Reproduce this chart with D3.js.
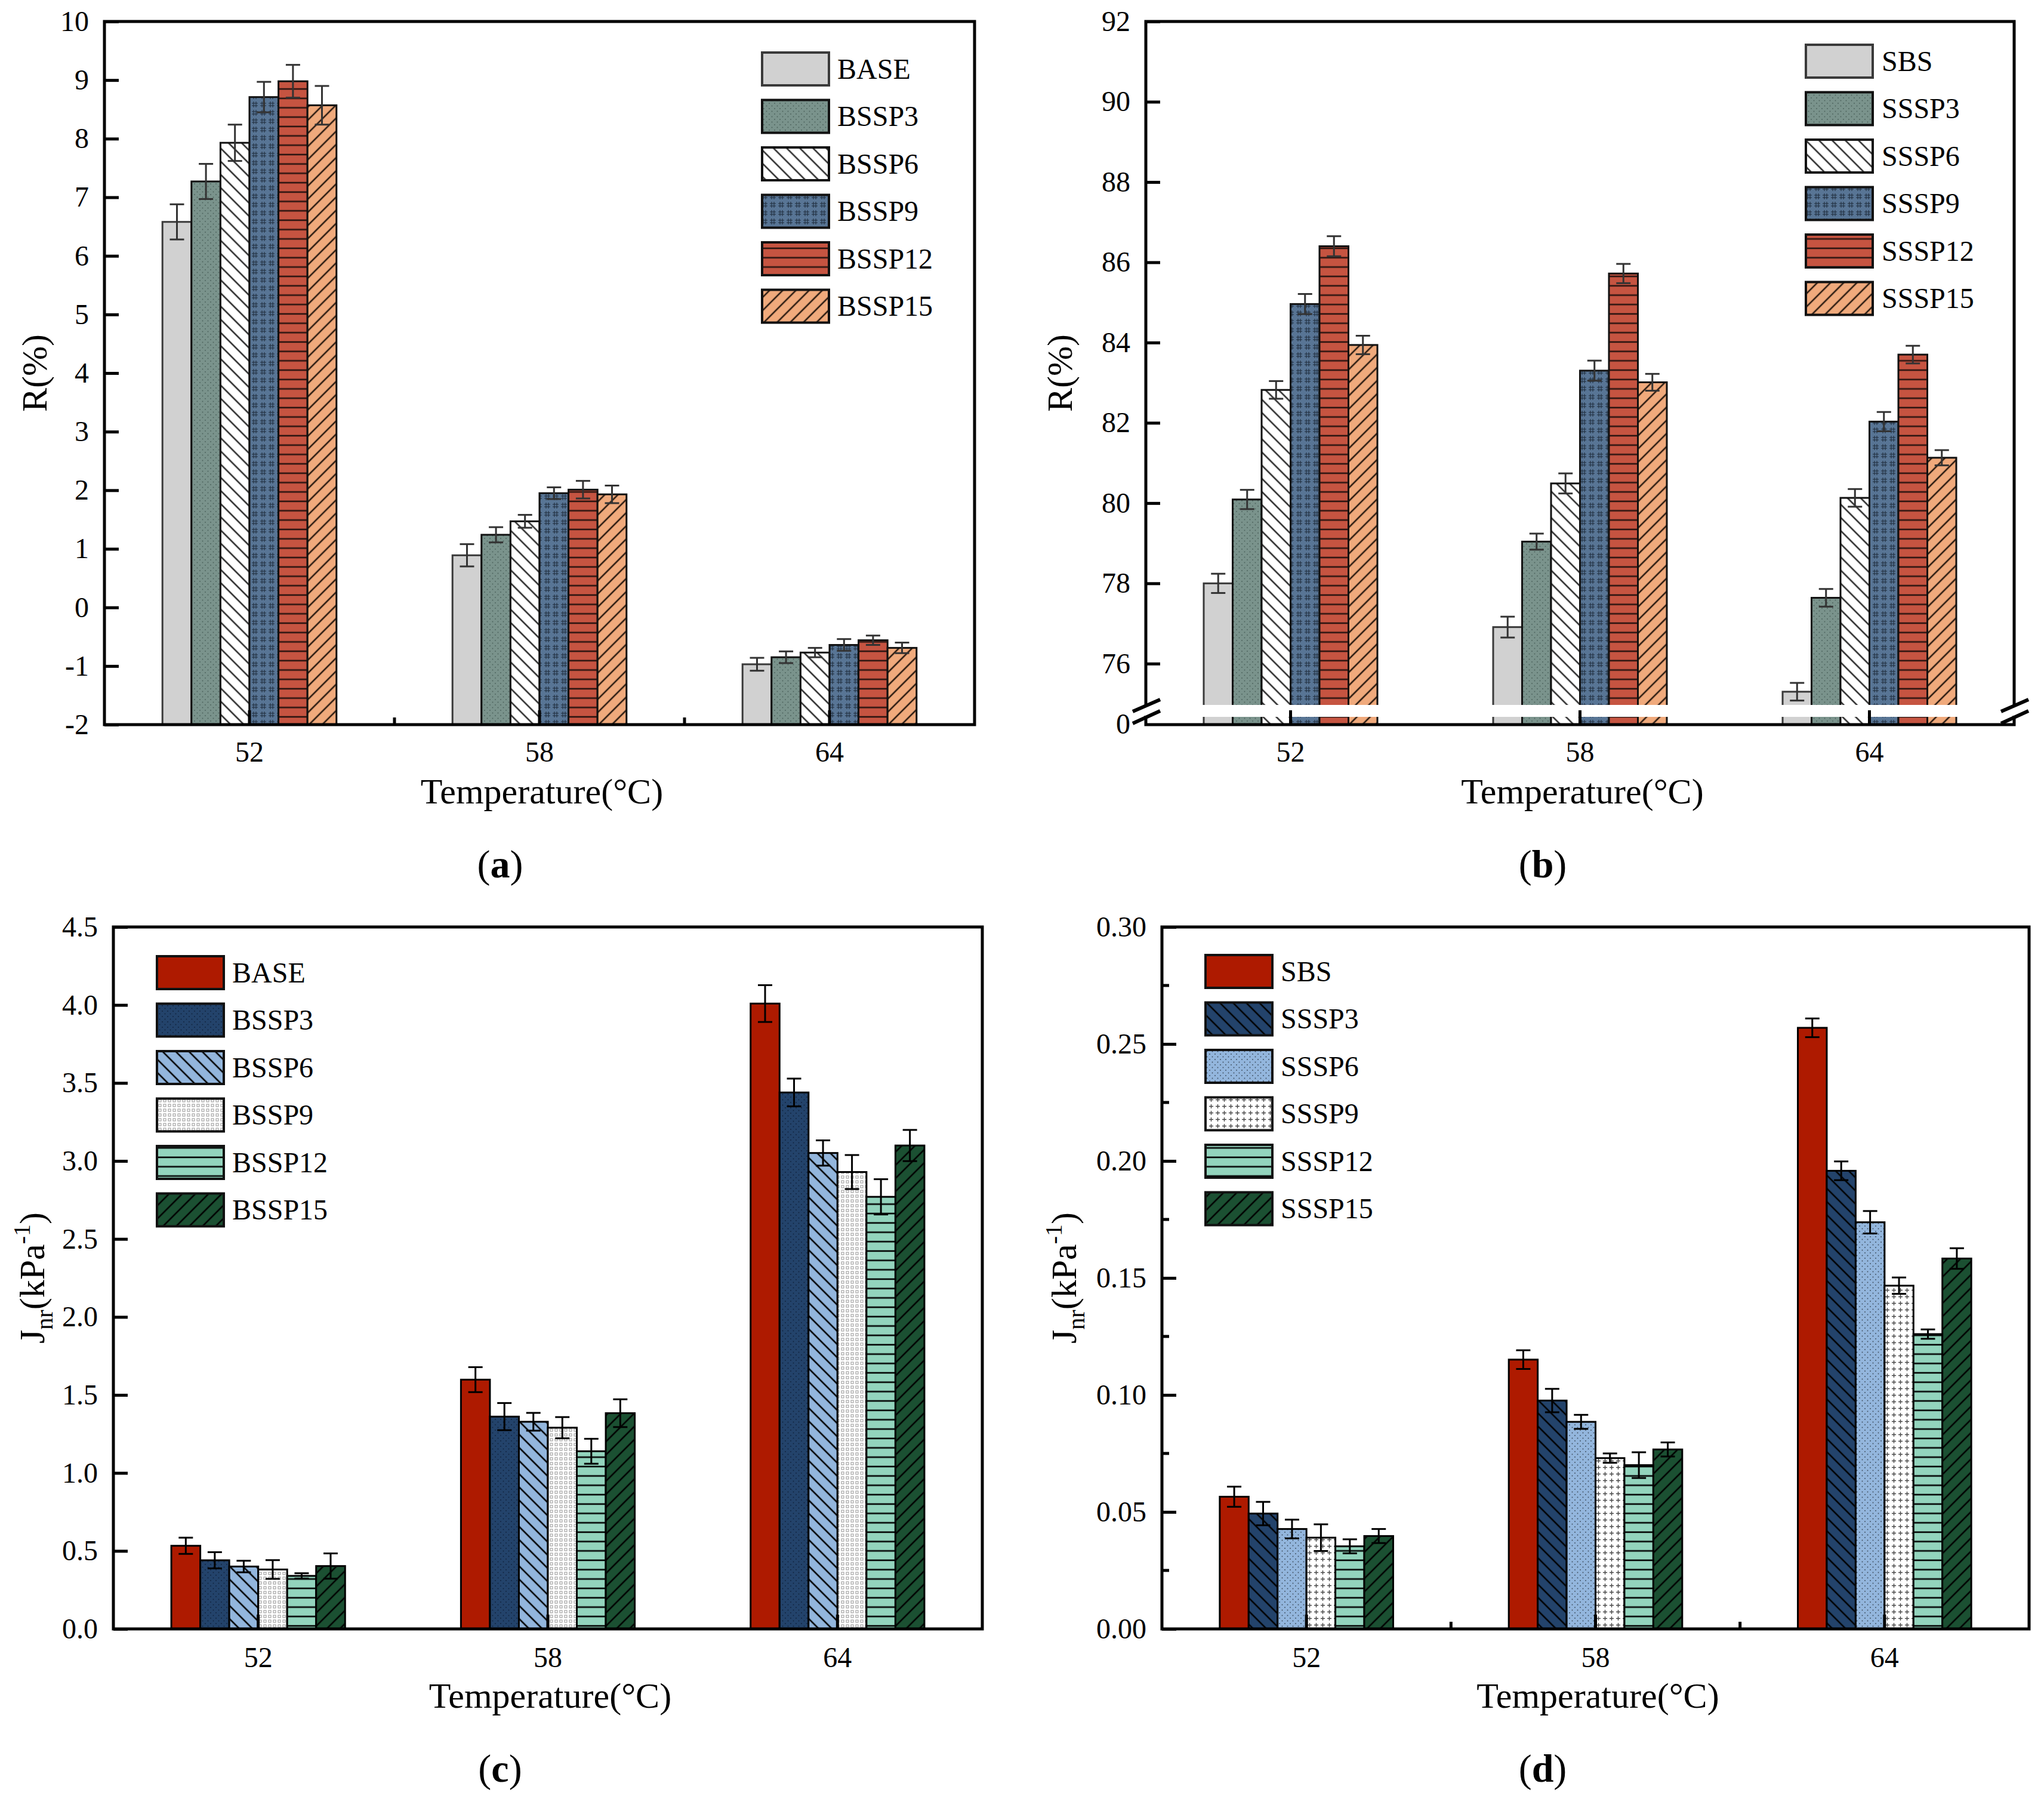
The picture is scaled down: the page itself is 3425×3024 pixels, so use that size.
<!DOCTYPE html>
<meta charset="utf-8">
<script src="https://d3js.org/d3.v7.min.js"></script>
<body style="margin:0;background:#fff">
<div id="fig"></div>
<script>
// categories
const temps = ["52", "58", "64"];

// (a) R(%) of base binder series
const namesA = ["BASE", "BSSP3", "BSSP6", "BSSP9", "BSSP12", "BSSP15"];
const valuesA = [
  [6.58, 0.89, -0.97],
  [7.27, 1.24, -0.85],
  [7.93, 1.47, -0.77],
  [8.71, 1.95, -0.64],
  [8.98, 2.01, -0.56],
  [8.57, 1.93, -0.69]];
const errorsA = [
  [0.30, 0.19, 0.11],
  [0.30, 0.13, 0.10],
  [0.31, 0.11, 0.08],
  [0.26, 0.10, 0.10],
  [0.28, 0.15, 0.08],
  [0.33, 0.15, 0.09]];
const ticksA = [-2, -1, 0, 1, 2, 3, 4, 5, 6, 7, 8, 9, 10];

// (b) R(%) of SBS binder series
const namesB = ["SBS", "SSSP3", "SSSP6", "SSSP9", "SSSP12", "SSSP15"];
const valuesB = [
  [78.00, 76.91, 75.30],
  [80.09, 79.04, 77.64],
  [82.82, 80.49, 80.13],
  [84.96, 83.30, 82.03],
  [86.40, 85.72, 83.70],
  [83.94, 83.01, 81.13]];
const errorsB = [
  [0.24, 0.26, 0.22],
  [0.24, 0.20, 0.22],
  [0.22, 0.25, 0.22],
  [0.25, 0.25, 0.24],
  [0.25, 0.24, 0.22],
  [0.23, 0.21, 0.19]];
const ticksB = [76, 78, 80, 82, 84, 86, 88, 90, 92];

// (c) Jnr of base binder series
const namesC = ["BASE", "BSSP3", "BSSP6", "BSSP9", "BSSP12", "BSSP15"];
const valuesC = [
  [0.533, 1.598, 4.009],
  [0.440, 1.361, 3.439],
  [0.400, 1.328, 3.051],
  [0.381, 1.290, 2.929],
  [0.340, 1.139, 2.770],
  [0.403, 1.383, 3.099]];
const errorsC = [
  [0.052, 0.080, 0.118],
  [0.052, 0.087, 0.089],
  [0.037, 0.057, 0.081],
  [0.060, 0.068, 0.109],
  [0.017, 0.080, 0.113],
  [0.081, 0.089, 0.100]];
const ticksC = [0, 0.5, 1.0, 1.5, 2.0, 2.5, 3.0, 3.5, 4.0, 4.5];

// (d) Jnr of SBS binder series
const namesD = ["SBS", "SSSP3", "SSSP6", "SSSP9", "SSSP12", "SSSP15"];
const valuesD = [
  [0.0565, 0.1151, 0.2569],
  [0.0493, 0.0976, 0.1958],
  [0.0427, 0.0885, 0.1738],
  [0.0390, 0.0730, 0.1467],
  [0.0353, 0.0700, 0.1260],
  [0.0397, 0.0767, 0.1583]];
const errorsD = [
  [0.0043, 0.0040, 0.0040],
  [0.0050, 0.0050, 0.0040],
  [0.0040, 0.0030, 0.0048],
  [0.0057, 0.0020, 0.0035],
  [0.0030, 0.0055, 0.0020],
  [0.0030, 0.0030, 0.0044]];
const ticksD = [0, 0.05, 0.10, 0.15, 0.20, 0.25, 0.30];

const FONT = "'Liberation Serif', 'Times New Roman', serif";

const svg = d3.select("#fig").append("svg")
  .attr("width", 3425).attr("height", 3024)
  .style("font-family", FONT);
const defs = svg.append("defs");

// fill patterns
function pattern(id, kind, bg, ink) {
  let p;
  if (kind === "solid") return bg;
  if (kind === "back" || kind === "fwd") {
    const s = 15.6;
    p = defs.append("pattern").attr("id", id).attr("patternUnits", "userSpaceOnUse")
      .attr("width", s).attr("height", s)
      .attr("patternTransform", `rotate(${kind === "back" ? -45 : 45})`);
    p.append("rect").attr("width", s).attr("height", s).attr("fill", bg);
    p.append("line").attr("x1", s / 2).attr("x2", s / 2).attr("y1", -1).attr("y2", s + 1)
      .attr("stroke", ink).attr("stroke-width", 2.6);
  } else if (kind === "hlines") {
    p = defs.append("pattern").attr("id", id).attr("patternUnits", "userSpaceOnUse")
      .attr("width", 20).attr("height", 15.7);
    p.append("rect").attr("width", 20).attr("height", 15.7).attr("fill", bg);
    p.append("line").attr("x1", -1).attr("x2", 21).attr("y1", 7.8).attr("y2", 7.8)
      .attr("stroke", ink).attr("stroke-width", 2.6);
  } else if (kind === "dots") {
    p = defs.append("pattern").attr("id", id).attr("patternUnits", "userSpaceOnUse")
      .attr("width", 9).attr("height", 9);
    p.append("rect").attr("width", 9).attr("height", 9).attr("fill", bg);
    p.append("circle").attr("cx", 2).attr("cy", 2).attr("r", 0.9).attr("fill", ink);
    p.append("circle").attr("cx", 6.5).attr("cy", 6.5).attr("r", 0.9).attr("fill", ink);
  } else if (kind === "mesh") {
    p = defs.append("pattern").attr("id", id).attr("patternUnits", "userSpaceOnUse")
      .attr("width", 14).attr("height", 14);
    p.append("rect").attr("width", 14).attr("height", 14).attr("fill", bg);
    p.append("path").attr("d", "M2,5H12M2,9H12M5,2V12M9,2V12")
      .attr("stroke", ink).attr("stroke-width", 1).attr("fill", "none");
  } else if (kind === "grid") {
    p = defs.append("pattern").attr("id", id).attr("patternUnits", "userSpaceOnUse")
      .attr("width", 8).attr("height", 8);
    p.append("rect").attr("width", 8).attr("height", 8).attr("fill", bg);
    p.append("rect").attr("x", 2).attr("y", 2).attr("width", 4).attr("height", 4)
      .attr("fill", "none").attr("stroke", ink).attr("stroke-width", 0.9);
  } else if (kind === "plus") {
    p = defs.append("pattern").attr("id", id).attr("patternUnits", "userSpaceOnUse")
      .attr("width", 11).attr("height", 11);
    p.append("rect").attr("width", 11).attr("height", 11).attr("fill", bg);
    p.append("path").attr("d", "M2,5.5H9M5.5,2V9")
      .attr("stroke", ink).attr("stroke-width", 1.3).attr("fill", "none");
  }
  return `url(#${id})`;
}

const fillsTop = [
  pattern("t0", "solid", "#d1d1d1"),
  pattern("t1", "dots", "#7a938c", "#4a605a"),
  pattern("t2", "back", "#ffffff", "#2b2b2b"),
  pattern("t3", "mesh", "#587595", "#1c2838"),
  pattern("t4", "hlines", "#c65441", "#2a1410"),
  pattern("t5", "fwd", "#f0aa7c", "#2a1a10")];
const strokesTop = ["#3a3a3a", "#111", "#111", "#111", "#111", "#111"];

const fillsC = [
  pattern("c0", "solid", "#ae1a00"),
  pattern("c1", "dots", "#23436b", "#10223c"),
  pattern("c2", "back", "#93b6dd", "#000"),
  pattern("c3", "grid", "#ffffff", "#8a8a8a"),
  pattern("c4", "hlines", "#93d4bd", "#000"),
  pattern("c5", "fwd", "#1b5032", "#000")];
const fillsD = [
  pattern("d0", "solid", "#ae1a00"),
  pattern("d1", "back", "#23436b", "#000"),
  pattern("d2", "dots", "#93b6dd", "#3b4a5a"),
  pattern("d3", "plus", "#ffffff", "#444"),
  pattern("d4", "hlines", "#93d4bd", "#000"),
  pattern("d5", "fwd", "#1b5032", "#000")];
const strokesBottom = ["#000", "#000", "#000", "#000", "#000", "#000"];

const panels = [
  {left: 175, right: 1633, top: 36, bottom: 1214, domain: [-2, 10], ticks: ticksA, fmt: d => String(d),
   names: namesA, values: valuesA, errors: errorsA, fills: fillsTop, strokes: strokesTop, errColor: "#333",
   legend: [1277, 115], textX: 1403, ytitle: "R", yTitleX: 78, label: "a", labelX: 838,
   xPad: 28, boundaryTicks: true},
  {left: 1920, right: 3375, top: 36, bottom: 1214, domain: [74.48, 92], ticks: ticksB, fmt: d => String(d),
   names: namesB, values: valuesB, errors: errorsB, fills: fillsTop, strokes: strokesTop, errColor: "#333",
   legend: [3026, 102], textX: 3153, ytitle: "R", yTitleX: 1796, label: "b", labelX: 2585,
   xPad: 28, brk: true},
  {left: 190, right: 1646, top: 1553, bottom: 2729, domain: [0, 4.5], ticks: ticksC, fmt: d3.format(".1f"),
   names: namesC, values: valuesC, errors: errorsC, fills: fillsC, strokes: strokesBottom, errColor: "#000",
   legend: [263, 1629], textX: 389, ytitle: "J", yTitleX: 74, label: "c", labelX: 838,
   xPad: 30},
  {left: 1947, right: 3400, top: 1553, bottom: 2729, domain: [0, 0.3], ticks: ticksD, fmt: d3.format(".2f"),
   names: namesD, values: valuesD, errors: errorsD, fills: fillsD, strokes: strokesBottom, errColor: "#000",
   legend: [2020, 1627], textX: 2146, ytitle: "J", yTitleX: 1803, label: "d", labelX: 2585,
   xPad: 30, minorY: 0.025, boundaryTicks: true}
];

panels.forEach(drawPanel);

function drawPanel(p) {
  const g = svg.append("g");
  const x = d3.scaleBand().domain(temps).range([p.left, p.right]).paddingInner(0).paddingOuter(0);
  const groupW = x.bandwidth() * 0.6;
  const xs = d3.scaleBand().domain(d3.range(p.names.length)).range([0, groupW]);
  const y = d3.scaleLinear().domain(p.domain).range([p.bottom, p.top]);

  // bars
  p.names.forEach((name, si) => {
    const recs = temps.map((t, ti) => ({t, v: p.values[si][ti], e: p.errors[si][ti]}));
    const gx = d => x(d.t) + (x.bandwidth() - groupW) / 2 + xs(si);
    g.append("g").selectAll("rect").data(recs).join("rect")
      .attr("x", gx).attr("width", xs.bandwidth())
      .attr("y", d => y(d.v)).attr("height", d => p.bottom - y(d.v))
      .attr("fill", p.fills[si]).attr("stroke", p.strokes[si]).attr("stroke-width", 3);
    const eb = g.append("g").attr("stroke", p.errColor).attr("stroke-width", 3);
    recs.forEach(d => {
      const cx = gx(d) + xs.bandwidth() / 2;
      eb.append("line").attr("x1", cx).attr("x2", cx).attr("y1", y(d.v - d.e)).attr("y2", y(d.v + d.e));
      eb.append("line").attr("x1", cx - 12).attr("x2", cx + 12).attr("y1", y(d.v - d.e)).attr("y2", y(d.v - d.e));
      eb.append("line").attr("x1", cx - 12).attr("x2", cx + 12).attr("y1", y(d.v + d.e)).attr("y2", y(d.v + d.e));
    });
  });

  // axis break stripe through the bars
  if (p.brk) {
    temps.forEach(t => {
      g.append("rect").attr("x", x(t) + (x.bandwidth() - groupW) / 2 - 3).attr("width", groupW + 6)
        .attr("y", 1181).attr("height", 20).attr("fill", "#fff");
    });
  }

  // y axis
  const ya = g.append("g").attr("transform", `translate(${p.left},0)`)
    .call(d3.axisLeft(y).tickValues(p.ticks).tickFormat(p.fmt).tickSize(-24).tickPadding(26));
  ya.select(".domain").remove();
  ya.selectAll(".tick line").attr("stroke", "#000").attr("stroke-width", 5);
  ya.selectAll(".tick text").attr("font-size", 48).attr("font-family", FONT).attr("fill", "#000");
  if (p.minorY) {
    const minors = d3.range(p.domain[0] + p.minorY, p.domain[1], p.minorY * 2);
    g.append("g").selectAll("line").data(minors).join("line")
      .attr("x1", p.left).attr("x2", p.left + 12).attr("y1", d => y(d)).attr("y2", d => y(d))
      .attr("stroke", "#000").attr("stroke-width", 5);
  }
  if (p.brk) {
    g.append("text").attr("x", p.left - 26).attr("y", p.bottom).attr("dy", "0.32em")
      .attr("text-anchor", "end").attr("font-size", 48).text("0");
  }

  // x axis
  const xa = g.append("g").attr("transform", `translate(0,${p.bottom})`)
    .call(d3.axisBottom(x).tickSize(-24).tickPadding(p.xPad));
  xa.select(".domain").remove();
  xa.selectAll(".tick line").attr("stroke", "#000").attr("stroke-width", 5);
  xa.selectAll(".tick text").attr("font-size", 48).attr("font-family", FONT).attr("fill", "#000");
  if (p.boundaryTicks) {
    g.append("g").selectAll("line").data(temps.slice(1)).join("line")
      .attr("x1", d => x(d)).attr("x2", d => x(d)).attr("y1", p.bottom).attr("y2", p.bottom - 12)
      .attr("stroke", "#000").attr("stroke-width", 5);
  }

  // frame
  g.append("rect").attr("x", p.left).attr("y", p.top)
    .attr("width", p.right - p.left).attr("height", p.bottom - p.top)
    .attr("fill", "none").attr("stroke", "#000").attr("stroke-width", 5);

  // break marks on both side axes
  if (p.brk) {
    [p.left, p.right].forEach(ax => {
      g.append("rect").attr("x", ax - 5).attr("y", 1184).attr("width", 10).attr("height", 15).attr("fill", "#fff");
      g.append("line").attr("x1", ax - 22).attr("y1", 1192).attr("x2", ax + 24).attr("y2", 1172)
        .attr("stroke", "#000").attr("stroke-width", 6);
      g.append("line").attr("x1", ax - 22).attr("y1", 1212).attr("x2", ax + 24).attr("y2", 1191)
        .attr("stroke", "#000").attr("stroke-width", 6);
    });
  }

  // legend
  const lg = g.append("g");
  p.names.forEach((name, si) => {
    const cy = p.legend[1] + si * 79.5;
    lg.append("rect").attr("x", p.legend[0]).attr("y", cy - 27).attr("width", 112).attr("height", 55)
      .attr("fill", p.fills[si]).attr("stroke", si === 0 && p.strokes[0] !== "#000" ? "#3a3a3a" : "#111")
      .attr("stroke-width", 4);
    lg.append("text").attr("x", p.textX).attr("y", cy).attr("dy", "0.35em")
      .attr("font-size", 48).text(name);
  });

  // axis titles
  const midX = (p.left + p.right) / 2;
  g.append("text").attr("x", midX + 4).attr("y", p.bottom + 132).attr("text-anchor", "middle")
    .attr("font-size", 60).text("Temperature(\u00B0C)");

  const midY = (p.top + p.bottom) / 2;
  const yt = g.append("text").attr("transform", `translate(${p.yTitleX},${midY}) rotate(-90)`)
    .attr("text-anchor", "middle").attr("font-size", 60);
  if (p.ytitle === "R") {
    yt.text("R(%)");
  } else {
    yt.append("tspan").text("J");
    yt.append("tspan").attr("font-size", 40).attr("dy", 14).text("nr");
    yt.append("tspan").attr("dy", -14).text("(kPa");
    yt.append("tspan").attr("font-size", 40).attr("dy", -24).text("-1");
    yt.append("tspan").attr("dy", 24).text(")");
  }

  // panel label
  const pl = g.append("text").attr("x", p.labelX).attr("y", p.bottom + 256)
    .attr("text-anchor", "middle").attr("font-size", 66);
  pl.append("tspan").text("(");
  pl.append("tspan").attr("font-weight", "bold").text(p.label);
  pl.append("tspan").text(")");
}
</script>
</body>
